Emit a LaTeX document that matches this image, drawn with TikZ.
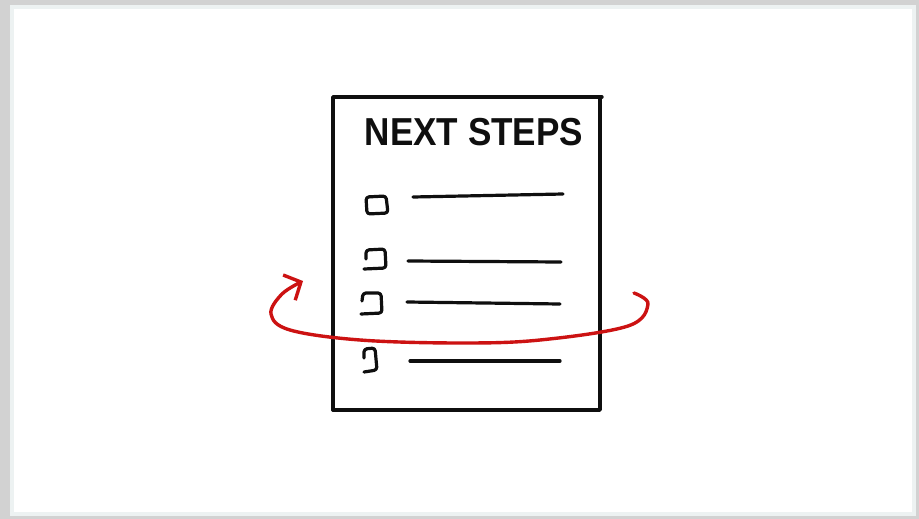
\documentclass[tikz,border=0pt]{standalone}
\usepackage{fontspec}
\setmainfont{Liberation Sans}
\usetikzlibrary{arrows.meta}
\definecolor{pen}{rgb}{0.06,0.06,0.06}
\definecolor{marker}{rgb}{0.80,0.07,0.07}
\definecolor{rim}{rgb}{0.93,0.95,0.95}
\tikzset{
  ink/.style={draw=pen,line width=3.4pt,line cap=round,line join=round},
  tickbox/.style={draw=pen,line width=3.2pt,line cap=round,line join=round,rounded corners=3pt},
  entry/.style={draw=pen,line width=3.2pt,line cap=round}
}
\begin{document}
\begin{tikzpicture}[x=1pt,y=-1pt]
  \useasboundingbox (0,0) rectangle (919,519);
  \fill[gray!35] (0,0) rectangle (919,519);
  \fill[white,draw=rim,line width=4pt] (12,7) rectangle (914,514);

  % sheet
  \draw[ink] (333,410) -- (333,97) -- (602,97);
  \draw[ink] (600,98) -- (600,410) -- (333,410);
  \node[text=pen,font=\bfseries\fontsize{39}{39}\selectfont,xscale=0.9,anchor=base] (title) at (474,146) {NEXT STEPS};

  % check boxes
  \draw[tickbox] (366,197) -- (386,196) -- (388,213) -- (367,214) -- cycle;
  \draw[tickbox] (366,259) -- (366,250) -- (385,249) -- (386,268) -- (364,269);
  \draw[tickbox] (362,301) -- (363,293) -- (381,293) -- (382,313) -- (361,314);
  \draw[tickbox] (364,358) -- (364,349) -- (375,348) -- (377,370) -- (364,372);

  % entries
  \draw[entry] (413,197) -- (563,194);
  \draw[entry] (408,261) -- (561,262);
  \draw[entry] (407,302) -- (560,304);
  \draw[entry] (410,361) -- (560,361);

  % loop arrow
  \draw[marker,line width=3.4pt,line cap=round,-{Straight Barb[length=13pt,width=28pt]}]
    plot[smooth,tension=0.6] coordinates {(634,293) (648,304) (628,326) (540,340) (460,343) (360,340) (290,330) (271,314) (282,294) (303,281)};
\end{tikzpicture}
\end{document}
